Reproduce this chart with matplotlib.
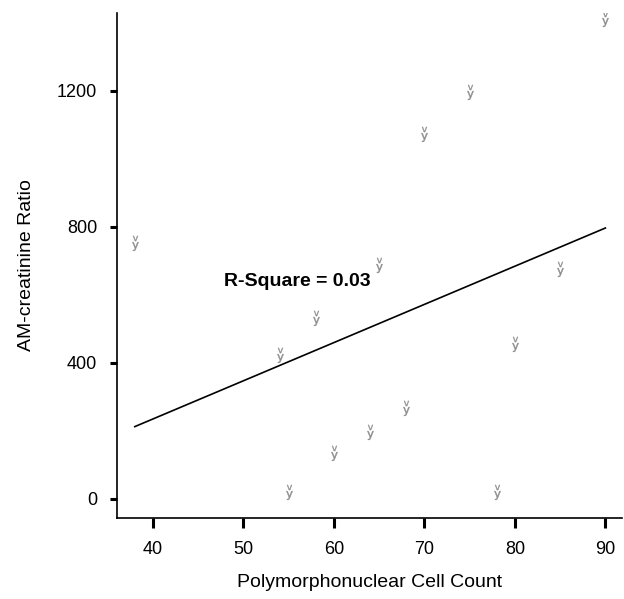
import matplotlib
matplotlib.use('Agg')
import matplotlib.pyplot as plt
from matplotlib.transforms import offset_copy

plt.rcParams['font.family'] = ['Liberation Sans', 'DejaVu Sans']

# Data
pmn_count = [38, 54, 55, 58, 60, 64, 65, 68, 70, 75, 78, 80, 85, 90]
am_ratio = [752, 423, 20, 532, 135, 197, 688, 267, 1072, 1196, 20, 455, 676, 1410]

# fitted line end points
fit_x = [38, 90]
fit_y = [212, 796]

x_ticks = [40, 50, 60, 70, 80, 90]
y_ticks = [0, 400, 800, 1200]

fig = plt.figure(figsize=(6.24, 5.99), dpi=100)
ax = fig.add_axes([0.187, 0.1352, 0.81, 0.843])

# the little scanned glyph: a "y" with a small "v" on top
grey = '#8c8c8c'
low = offset_copy(ax.transData, fig=fig, y=-2, units='points')
high = offset_copy(ax.transData, fig=fig, y=3.5, units='points')
ax.scatter(pmn_count, am_ratio, marker=r'$\mathrm{y}$', s=40, color=grey,
           linewidths=0.3, transform=low, zorder=3)
ax.scatter(pmn_count, am_ratio, marker=r'$\mathrm{v}$', s=14, color=grey,
           linewidths=0.2, transform=high, zorder=3)
ax.plot(fit_x, fit_y, color='black', lw=1.2, zorder=2)

ax.text(47.9, 638, 'R-Square = 0.03', fontsize=14, fontweight='bold',
        va='center', ha='left')

ax.set_xlim(36, 91.85)
ax.set_ylim(-56.7, 1428)
ax.set_xticks(x_ticks)
ax.set_yticks(y_ticks)

for side in ['top', 'right']:
    ax.spines[side].set_visible(False)
for side in ['left', 'bottom']:
    ax.spines[side].set_linewidth(1.2)

ax.tick_params(axis='x', length=7.2, width=2.2, pad=9, labelsize=13)
ax.tick_params(axis='y', length=5, width=2.2, pad=9, labelsize=13)

ax.set_xlabel('Polymorphonuclear Cell Count', fontsize=14, labelpad=12)
ax.set_ylabel('AM-creatinine Ratio', fontsize=14, labelpad=16)

fig.savefig('out.png', dpi=100)
